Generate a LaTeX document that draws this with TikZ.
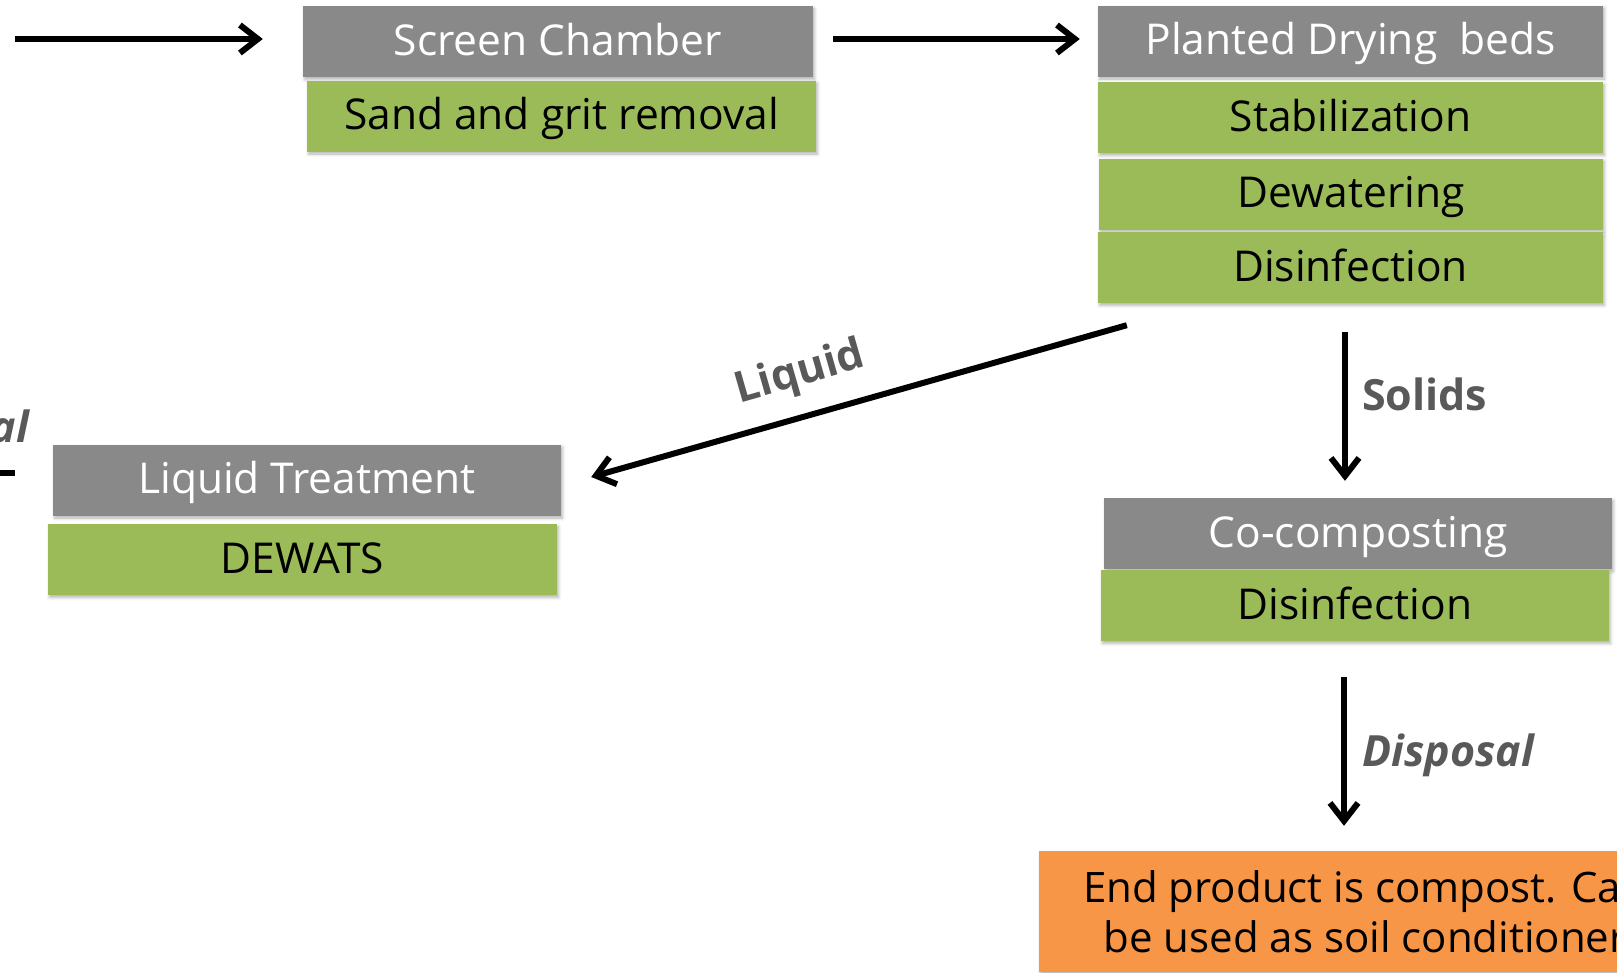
\documentclass[tikz,border=0pt]{standalone}
\usepackage{fontspec}
\setmainfont{Open Sans}
\usetikzlibrary{arrows.meta,shadows.blur}
\definecolor{boxgrey}{HTML}{898989}
\definecolor{boxgreen}{HTML}{9BBB59}
\definecolor{boxorange}{HTML}{F79646}
\definecolor{labelgrey}{HTML}{595959}
\begin{document}
\begin{tikzpicture}[x=1pt,y=-1pt,
  box/.style={rectangle, inner sep=0pt, minimum width=#1, minimum height=71pt,
    text height=35pt, text depth=8pt, font=\fontsize{42.5}{50}\selectfont,
    blur shadow={shadow xshift=1.5pt, shadow yshift=-2.5pt, shadow blur radius=3pt, shadow opacity=30}},
  box/.default=508pt,
  greybox/.style={box=#1, fill=boxgrey, text=white},
  greybox/.default=508pt,
  greenbox/.style={box=#1, fill=boxgreen, text=black},
  greenbox/.default=508pt,
  flow/.style={line width=6pt, -{Straight Barb[length=18pt,width=28pt]}},
  lbl/.style={text=labelgrey, inner sep=0pt, font=\fontsize{43}{50}\selectfont\bfseries},
  lbli/.style={lbl, font=\fontsize{43}{50}\selectfont\bfseries\itshape}]
\useasboundingbox (0,0) rectangle (1617,972);
\clip (0,0) rectangle (1617,972);

% boxes
\node[greybox=510pt] (sc) at (558,41.5) {Screen Chamber};
\node[greenbox=509pt] (sg) at (561.5,116) {Sand and grit removal};
\node[greybox=505pt] (pd) at (1350.5,41) {Planted Drying~ beds};
\node[greenbox=505pt] (st) at (1350.5,117.5) {Stabilization};
\node[greenbox=504pt] (dw) at (1351,194) {Dewatering};
\node[greenbox=505pt] (di) at (1350.5,267.5) {Disinfection};
\node[greybox=508pt] (lt) at (307,480) {Liquid Treatment};
\node[greenbox=509pt] (de) at (302.5,559.5) {DEWATS};
\node[greybox=508pt] (cc) at (1358,533.5) {Co-composting};
\node[greenbox=508pt] (cd) at (1355,605.5) {Disinfection};
\node[fill=boxorange, inner sep=0pt, minimum width=652pt, minimum height=121pt, align=center,
  font=\fontsize{42}{50}\selectfont,
  blur shadow={shadow xshift=1.5pt, shadow yshift=-2.5pt, shadow blur radius=3pt, shadow opacity=30}]
  (ep) at (1365,911.5) {End product is compost. Can\\be used as soil conditioner};

% connectors
\coordinate (in1) at (15,39);
\draw[flow] (in1) -- ([shift={(-40,-2.5)}]sc.west);
\draw[flow] ([shift={(20,-2.5)}]sc.east) -- ([shift={(-18,-2)}]pd.west);
\draw[flow] ([shift={(29,22)}]di.south west) -- ([shift={(30,-3)}]lt.east);
\draw[flow] ([shift={(-5.5,29)}]di.south) -- ([shift={(-13,-17)}]cc.north);
\draw[flow] ([shift={(-11,36)}]cd.south) -- ([shift={(-21,-25)}]ep.north);
\coordinate (o1) at (0,473);
\coordinate (o2) at (15,473);
\draw[line width=6pt] (o1) -- (o2);

% labels
\node[lbl, rotate=16] (liq) at (800,374) {Liquid};
\node[lbl, anchor=base west] (sol) at (1362,410) {Solids};
\node[lbli, anchor=base west] (dis) at (1362,766) {Disposal};
\node[lbli, anchor=base east] (al) at (29,442) {al};
\end{tikzpicture}
\end{document}
